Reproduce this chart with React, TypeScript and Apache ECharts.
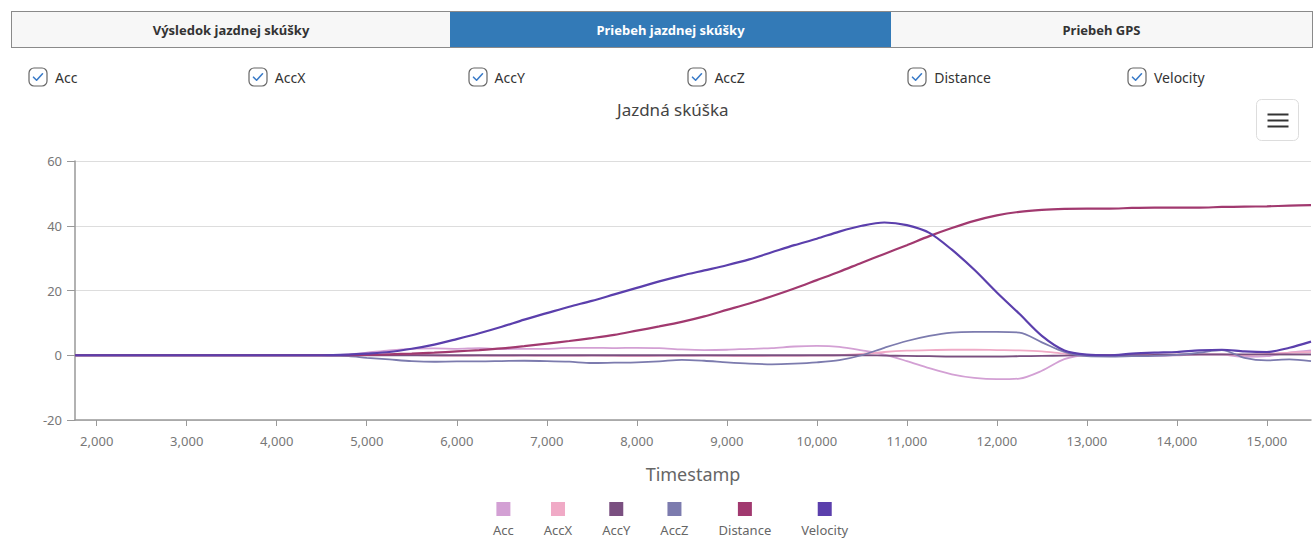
import React, { useEffect, useRef } from "react";
import * as echarts from "echarts";

const timestamps = [1760, 4500, 4800, 5000, 5250, 5500, 5750, 6000, 6250, 6500, 6750, 7000, 7250, 7500, 7750, 8000, 8250, 8500, 8750, 9000, 9250, 9500, 9750, 10000, 10250, 10500, 10750, 11000, 11250, 11500, 11750, 12000, 12250, 12500, 12750, 13000, 13250, 13500, 13750, 14000, 14250, 14500, 14750, 15000, 15250, 15490];

const acc = [0, 0, 0.3, 0.8, 1.5, 2.0, 2.1, 2.0, 2.2, 1.9, 2.0, 2.0, 2.3, 2.3, 2.2, 2.3, 2.2, 1.8, 1.6, 1.7, 2.0, 2.2, 2.7, 2.9, 2.6, 1.5, 0.2, -1.8, -4.0, -5.9, -7.0, -7.4, -7.2, -4.8, -1.2, 0, 0, 0, -0.2, 0, 0.2, 0.2, -0.5, -0.3, 0.8, 1.5];
const accX = [0, 0, 0, 0.1, 0.2, 0.1, -0.1, -0.2, -0.1, -0.2, -0.1, -0.2, -0.2, -0.1, -0.2, -0.3, -0.2, -0.2, -0.1, -0.2, -0.3, -0.2, -0.2, -0.1, 0, 0.4, 1.0, 1.4, 1.6, 1.7, 1.7, 1.6, 1.5, 1.2, 0.5, 0, 0, 0.1, 0.2, 0.2, 0.3, 0.3, 0, 0.4, 0.8, 1.0];
const accY = [0, 0, 0, 0, 0, 0, 0, 0, 0, 0, 0, 0, 0, 0, 0, 0, 0, 0, 0, 0, 0, 0, 0, 0, 0, 0, -0.1, -0.2, -0.3, -0.4, -0.4, -0.4, -0.3, -0.2, -0.1, 0, 0, 0, 0.1, 0.2, 0.3, 0.3, 0.3, 0.3, 0.3, 0.3];
const accZ = [0, 0, -0.3, -0.8, -1.3, -1.8, -2.0, -1.9, -1.9, -1.8, -1.7, -1.8, -2.0, -2.4, -2.3, -2.2, -1.9, -1.4, -1.7, -2.2, -2.6, -2.8, -2.6, -2.2, -1.5, 0, 2.3, 4.4, 6.0, 7.0, 7.2, 7.2, 7.0, 4.0, 1.0, -0.3, -0.4, -0.3, -0.2, 0.1, 0.8, 1.6, -0.8, -1.6, -1.3, -1.8];
const distance = [0, 0, 0, 0.1, 0.3, 0.5, 0.8, 1.2, 1.6, 2.1, 2.8, 3.6, 4.4, 5.3, 6.3, 7.6, 8.9, 10.3, 12.0, 14.0, 16.0, 18.2, 20.6, 23.2, 25.8, 28.6, 31.3, 34.0, 36.8, 39.3, 41.5, 43.2, 44.3, 44.9, 45.2, 45.3, 45.3, 45.5, 45.6, 45.6, 45.6, 45.8, 45.9, 46.0, 46.2, 46.4];
const velocity = [0, 0, 0.2, 0.5, 1.0, 2.0, 3.3, 5.0, 6.8, 8.8, 11.0, 13.0, 15.0, 16.8, 18.8, 20.8, 22.8, 24.6, 26.2, 27.8, 29.6, 31.8, 34.0, 36.0, 38.2, 40.0, 41.0, 40.2, 37.8, 32.6, 26.4, 19.4, 12.8, 6.0, 1.5, 0.2, 0, 0.5, 0.8, 1.0, 1.5, 1.7, 1.2, 1.0, 2.3, 4.2];

const seriesNames = ["Acc", "AccX", "AccY", "AccZ", "Distance", "Velocity"];
const seriesValues = [acc, accX, accY, accZ, distance, velocity];
const seriesColors = ["#d3a0d4", "#f0aac6", "#7a4f80", "#7c7bae", "#a1396f", "#5b3fac"];
const xTickValues = [2000, 3000, 4000, 5000, 6000, 7000, 8000, 9000, 10000, 11000, 12000, 13000, 14000, 15000];
const tabLabels = ["Výsledok jazdnej skúšky", "Priebeh jazdnej skúšky", "Priebeh GPS"];

const FONT = '"Segoe UI", "Noto Sans", "Open Sans", sans-serif';

function CheckIcon() {
  return (
    <svg width="20" height="20" viewBox="0 0 20 20" style={{ display: "block" }}>
      <rect x="1" y="1" width="18" height="18" rx="5" ry="5" fill="#fff" stroke="#666" strokeWidth="1.2" />
      <path d="M5.5 10.2 L8.6 13.2 L14.5 6.8" fill="none" stroke="#3a7bc8" strokeWidth="1.6" strokeLinecap="round" strokeLinejoin="round" />
    </svg>
  );
}

export default function App() {
  const ref = useRef<HTMLDivElement>(null);

  useEffect(() => {
    if (!ref.current) return;
    const chart = echarts.init(ref.current, undefined, { renderer: "svg" });
    const rich: any = {
      t: { fontSize: 13, color: "#666", lineHeight: 16, align: "center", fontFamily: FONT },
    };
    seriesColors.forEach((c, i) => {
      rich["s" + i] = { width: 14, height: 14, lineHeight: 26, backgroundColor: c, align: "center" };
    });
    chart.setOption({
      animation: false,
      textStyle: { fontFamily: FONT },
      title: {
        text: "Jazdná skúška",
        left: 612,
        top: 96,
        textStyle: { fontSize: 17, fontWeight: "normal", color: "#444", fontFamily: FONT },
      },
      grid: { left: 75, top: 161, right: 4, bottom: 119, containLabel: false },
      legend: {
        left: 488,
        top: 502,
        padding: 0,
        itemWidth: 0,
        itemHeight: 0,
        itemGap: 25,
        icon: "rect",
        selectedMode: false,
        data: seriesNames,
        formatter: (name: string) => {
          const i = seriesNames.indexOf(name);
          return `{s${i}|}\n{t|${name}}`;
        },
        textStyle: { rich, fontFamily: FONT },
      },
      xAxis: {
        type: "value",
        min: 1759,
        max: 15490,
        name: "Timestamp",
        nameLocation: "middle",
        nameGap: 45,
        nameTextStyle: { fontSize: 18, color: "#666", fontFamily: FONT },
        axisLine: { show: true, onZero: false, lineStyle: { color: "#999", width: 1.5 } },
        axisTick: { show: true, length: 6, lineStyle: { color: "#999" }, customValues: xTickValues },
        axisLabel: { color: "#777", fontSize: 13, margin: 14, customValues: xTickValues, fontFamily: FONT },
        splitLine: { show: false },
      },
      yAxis: {
        type: "value",
        min: -20,
        max: 60,
        interval: 20,
        axisLine: { show: true, lineStyle: { color: "#999", width: 1.5 } },
        axisTick: { show: true, length: 8, lineStyle: { color: "#999" } },
        axisLabel: { color: "#777", fontSize: 13, margin: 13, fontFamily: FONT },
        splitLine: { show: true, lineStyle: { color: "#ddd", width: 1 } },
      },
      graphic: [
        {
          type: "group",
          left: 1256,
          top: 99,
          children: [
            { type: "rect", shape: { x: 0, y: 0, width: 42, height: 41, r: 5 }, style: { fill: "#fff", stroke: "#ddd", lineWidth: 1 } },
            { type: "line", shape: { x1: 11, y1: 15, x2: 32, y2: 15 }, style: { stroke: "#333", lineWidth: 2 } },
            { type: "line", shape: { x1: 11, y1: 21, x2: 32, y2: 21 }, style: { stroke: "#333", lineWidth: 2 } },
            { type: "line", shape: { x1: 11, y1: 27, x2: 32, y2: 27 }, style: { stroke: "#333", lineWidth: 2 } },
          ],
        },
      ],
      series: seriesNames.map((name, i) => ({
        name,
        type: "line",
        data: timestamps.map((t, k) => [t, seriesValues[i][k]]),
        showSymbol: false,
        smooth: 0.3,
        color: seriesColors[i],
        lineStyle: { width: i >= 4 ? 2.2 : 1.8, color: seriesColors[i] },
        z: i === 5 ? 10 : i === 4 ? 9 : 2 + i,
      })),
    });
    return () => chart.dispose();
  }, []);

  return (
    <div style={{ position: "absolute", left: 0, top: 0, width: 1315, height: 539, background: "#fff", fontFamily: FONT, overflow: "hidden" }}>
      <div ref={ref} style={{ position: "absolute", left: 0, top: 0, width: 1315, height: 539 }} />
      <div style={{ position: "absolute", left: 11, top: 11, width: 1302, height: 37, display: "flex", boxSizing: "border-box", border: "1px solid #8a8a8a", background: "#f7f7f7" }}>
        {tabLabels.map((label, i) => (
          <div
            key={label}
            style={{
              width: i === 0 ? 438 : i === 1 ? 441 : 421,
              height: "100%",
              display: "flex",
              alignItems: "center",
              justifyContent: "center",
              fontSize: 13,
              fontWeight: 700,
              color: i === 1 ? "#fff" : "#333",
              background: i === 1 ? "#337ab7" : "transparent",
            }}
          >
            {label}
          </div>
        ))}
      </div>
      {seriesNames.map((name, i) => (
        <div
          key={name}
          style={{ position: "absolute", left: 28 + i * 219.8, top: 67, display: "flex", alignItems: "center", gap: 7, fontSize: 14, color: "#333" }}
        >
          <CheckIcon />
          <span>{name}</span>
        </div>
      ))}
    </div>
  );
}
